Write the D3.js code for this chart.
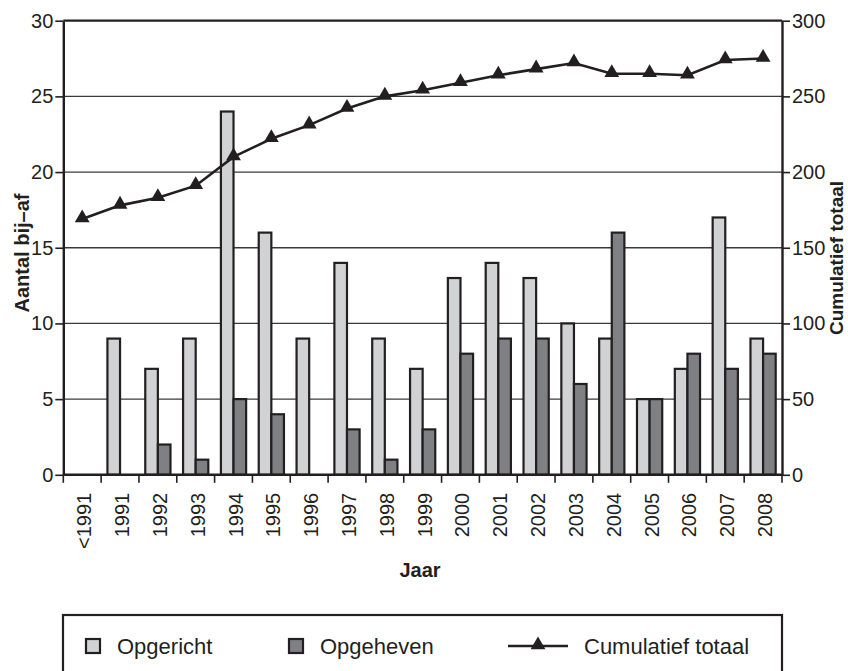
<!DOCTYPE html>
<html>
<head>
<meta charset="utf-8">
<script src="https://cdn.jsdelivr.net/npm/d3@7"></script>
<style>
	body { margin: 0; background: #fff; }
	svg { display: block; font-family: "Liberation Sans", Arial, sans-serif; }
</style>
</head>
<body>
<div id="chart"></div>
<script>
"use strict";

// data
const years = ["<1991", "1991", "1992", "1993", "1994", "1995", "1996", "1997", "1998", "1999",
	"2000", "2001", "2002", "2003", "2004", "2005", "2006", "2007", "2008"];
const opgericht = [0, 9, 7, 9, 24, 16, 9, 14, 9, 7, 13, 14, 13, 10, 9, 5, 7, 17, 9];
const opgeheven = [0, 0, 2, 1, 5, 4, 0, 3, 1, 3, 8, 9, 9, 6, 16, 5, 8, 7, 8];
const cumulatief = [169, 178, 183, 191, 210, 222, 231, 242, 250, 254, 259, 264, 268, 272, 265, 265, 264, 274, 275];
const leftTicks = [0, 5, 10, 15, 20, 25, 30];
const rightTicks = [0, 50, 100, 150, 200, 250, 300];
const seriesNames = ["Opgericht", "Opgeheven"];

const W = 848, H = 671;
const ink = "#231f20";
const fills = { Opgericht: "#d1d2d4", Opgeheven: "#7f8083" };

const plotL = 63.3, plotR = 782, plotT = 20.7, plotB = 474.8;

const svg = d3.select("#chart").append("svg")
	.attr("width", W)
	.attr("height", H);

const x = d3.scaleBand().domain(years).range([plotL, plotR]).paddingInner(0).paddingOuter(0);
const xSub = d3.scaleBand().domain(seriesNames).range([0, x.bandwidth()]).paddingInner(0).paddingOuter(0.5);
const y = d3.scaleLinear().domain([0, 30]).range([plotB, plotT]);
const y2 = d3.scaleLinear().domain([0, 300]).range([plotB, plotT]);

// gridlines
svg.append("g")
	.selectAll("line")
	.data(leftTicks.filter(d => d > 0 && d < 30))
	.enter()
	.append("line")
	.attr("x1", plotL).attr("x2", plotR)
	.attr("y1", d => y(d)).attr("y2", d => y(d))
	.attr("stroke", "#3a3a3a")
	.attr("stroke-width", 1.3);

// top border
svg.append("line")
	.attr("x1", plotL).attr("x2", plotR)
	.attr("y1", y(30)).attr("y2", y(30))
	.attr("stroke", ink)
	.attr("stroke-width", 2.2);

// bars
const rows = years.map((yr, i) => ({ year: yr, Opgericht: opgericht[i], Opgeheven: opgeheven[i] }));

svg.append("g")
	.selectAll("g")
	.data(rows)
	.enter()
	.append("g")
	.attr("transform", d => "translate(" + x(d.year) + ",0)")
	.selectAll("rect")
	.data(d => seriesNames.map(k => ({ key: k, value: d[k] })))
	.enter()
	.append("rect")
	.attr("x", d => xSub(d.key))
	.attr("y", d => y(d.value))
	.attr("width", xSub.bandwidth())
	.attr("height", d => y(0) - y(d.value))
	.attr("fill", d => fills[d.key])
	.attr("stroke", ink)
	.attr("stroke-width", 2.2);

// cumulative line
const lineGen = d3.line()
	.x((d, i) => x(years[i]) + x.bandwidth() / 2)
	.y(d => y2(d));

svg.append("path")
	.datum(cumulatief)
	.attr("d", lineGen)
	.attr("fill", "none")
	.attr("stroke", ink)
	.attr("stroke-width", 2.6);

const tri = d3.symbol().type(d3.symbolTriangle).size(95);

svg.append("g")
	.selectAll("path")
	.data(cumulatief)
	.enter()
	.append("path")
	.attr("d", tri)
	.attr("transform", (d, i) => "translate(" + (x(years[i]) + x.bandwidth() / 2) + "," + (y2(d) - 1) + ")")
	.attr("fill", ink);

// axes
const styleAxis = (g) => {
	g.select(".domain").attr("stroke", ink).attr("stroke-width", 2.4);
	g.selectAll(".tick line").attr("stroke", ink).attr("stroke-width", 1.6);
	g.selectAll(".tick text")
		.attr("fill", ink)
		.style("font-size", "20px")
		.style("font-family", "\"Liberation Sans\", Arial, sans-serif");
};

const yAxisL = svg.append("g")
	.attr("transform", "translate(" + plotL + ",0)")
	.call(d3.axisLeft(y).tickValues(leftTicks).tickSize(8).tickSizeOuter(0).tickPadding(2));
styleAxis(yAxisL);

const yAxisR = svg.append("g")
	.attr("transform", "translate(" + plotR + ",0)")
	.call(d3.axisRight(y2).tickValues(rightTicks).tickSize(8).tickSizeOuter(0).tickPadding(2));
styleAxis(yAxisR);

// x axis: ticks at category boundaries
const xAxis = svg.append("g")
	.attr("transform", "translate(0," + plotB + ")");
xAxis.append("line")
	.attr("x1", plotL).attr("x2", plotR)
	.attr("stroke", ink)
	.attr("stroke-width", 2.4);
xAxis.selectAll("line.tk")
	.data(years.concat(["end"]))
	.enter()
	.append("line")
	.attr("class", "tk")
	.attr("x1", (d, i) => i < years.length ? x(d) : plotR)
	.attr("x2", (d, i) => i < years.length ? x(d) : plotR)
	.attr("y1", 0).attr("y2", 8)
	.attr("stroke", ink)
	.attr("stroke-width", 1.6);
xAxis.selectAll("text")
	.data(years)
	.enter()
	.append("text")
	.attr("transform", d => "translate(" + (x(d) + x.bandwidth() / 2 + 2) + ",18) rotate(-90)")
	.attr("text-anchor", "end")
	.attr("dy", "0.35em")
	.attr("fill", ink)
	.style("font-size", "20px")
	.text(d => d);

// axis titles
svg.append("text")
	.attr("transform", "translate(29,253) rotate(-90)")
	.attr("text-anchor", "middle")
	.attr("fill", ink)
	.style("font-size", "20px")
	.style("font-weight", "bold")
	.text("Aantal bij–af");

svg.append("text")
	.attr("transform", "translate(843,258) rotate(-90)")
	.attr("text-anchor", "middle")
	.attr("fill", ink)
	.style("font-size", "19px")
	.style("font-weight", "bold")
	.text("Cumulatief totaal");

svg.append("text")
	.attr("x", 420)
	.attr("y", 577)
	.attr("text-anchor", "middle")
	.attr("fill", ink)
	.style("font-size", "20px")
	.style("font-weight", "bold")
	.text("Jaar");

// legend
const legend = svg.append("g");
legend.append("rect")
	.attr("x", 63).attr("y", 615)
	.attr("width", 719).attr("height", 90)
	.attr("fill", "none")
	.attr("stroke", ink)
	.attr("stroke-width", 2.2);

const legY = 646;
seriesNames.forEach((k, i) => {
	const lx = [86, 289][i];
	legend.append("rect")
		.attr("x", lx).attr("y", legY - 7)
		.attr("width", 14).attr("height", 14)
		.attr("fill", fills[k])
		.attr("stroke", ink)
		.attr("stroke-width", 2.2);
	legend.append("text")
		.attr("x", lx + 31).attr("y", legY)
		.attr("dy", "0.35em")
		.attr("fill", ink)
		.style("font-size", "22px")
		.text(k);
});
legend.append("line")
	.attr("x1", 508).attr("x2", 568)
	.attr("y1", legY).attr("y2", legY)
	.attr("stroke", ink)
	.attr("stroke-width", 2.6);
legend.append("path")
	.attr("d", tri)
	.attr("transform", "translate(538," + (legY - 1) + ")")
	.attr("fill", ink);
legend.append("text")
	.attr("x", 584).attr("y", legY)
	.attr("dy", "0.35em")
	.attr("fill", ink)
	.style("font-size", "22px")
	.text("Cumulatief totaal");
</script>
</body>
</html>
